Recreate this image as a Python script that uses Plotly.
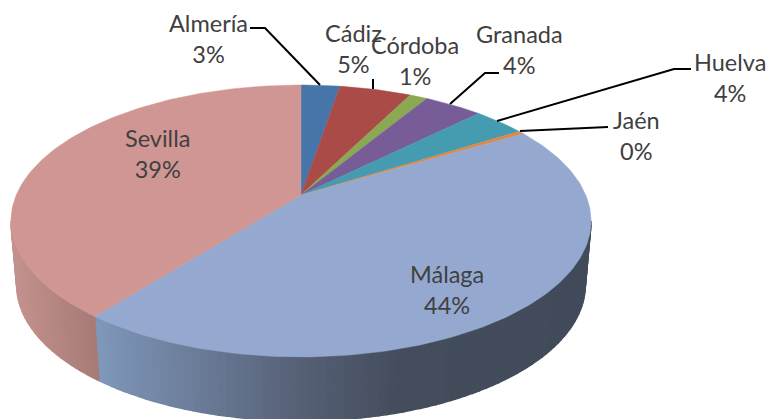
import math
import plotly.graph_objects as go

# ---- data ----
categories = ["Almería", "Cádiz", "Córdoba", "Granada", "Huelva", "Jaén", "Málaga", "Sevilla"]
values = [2.6, 4.8, 1.2, 3.9, 3.5, 0.4, 44.1, 39.4]

# ---- styles ----
colors = ["#4676A9", "#AA4B48", "#8BA852", "#775C98", "#459CB0", "#DE8A46", "#95A9D0", "#D09693"]
side_stops = {
    "Málaga": [(96, "#7F97B9"), (300, "#566076"), (400, "#434D5C"), (600, "#414B5A")],
    "Sevilla": [(10, "#C4928E"), (96, "#A67A76")],
}
label_xy = [(208, 38), (353, 48), (415, 60), (519, 49), (730, 77), (636, 135), (447, 289), (157, 153)]
leaders = [
    [(250, 28), (265, 28), (320, 85)],
    [(373, 79), (373, 89)],
    [],
    [(499, 73), (485, 73), (450, 104)],
    [(691, 69), (674, 69), (497, 121)],
    [(608, 127), (520, 131)],
    [],
    [],
]

# ---- projection of the tilted disc ----
CX, CY = 301, 195
K, A, B = 0.191, 284.7, 131.0
DEPTH, SHRINK = 64, 0.98


def top(deg):
    t = math.radians(deg)
    u, v = math.sin(t), math.cos(t)
    w = 1 + K * v
    return CX + A * u / w, CY - B * v / w


def bottom(deg):
    x, y = top(deg)
    return CX + (x - CX) * SHRINK, y + DEPTH


def mix(c1, c2, f):
    a = [int(c1[i:i + 2], 16) for i in (1, 3, 5)]
    b = [int(c2[i:i + 2], 16) for i in (1, 3, 5)]
    return "#%02x%02x%02x" % tuple(round(p + (q - p) * f) for p, q in zip(a, b))


def ramp(stops, x):
    if x <= stops[0][0]:
        return stops[0][1]
    for (x0, c0), (x1, c1) in zip(stops[:-1], stops[1:]):
        if x <= x1:
            return mix(c0, c1, (x - x0) / (x1 - x0))
    return stops[-1][1]


total = sum(values)
bounds = [0.0]
for val in values:
    bounds.append(bounds[-1] + val / total * 360)

fig = go.Figure()
EDGE_R = 90 + math.degrees(math.asin(K))
EDGE_L = 360 - EDGE_R

# side wall as narrow strips, each one overlapping the previous
for name, a0, a1 in zip(categories, bounds[:-1], bounds[1:]):
    if name not in side_stops:
        continue
    lo, hi = max(a0, EDGE_R), min(a1, EDGE_L)
    n = max(2, int((hi - lo) / 1.5))
    for i in range(n):
        s0 = lo + (hi - lo) * i / n
        s1 = lo + (hi - lo) * (i + 1) / n
        col = ramp(side_stops[name], top((s0 + s1) / 2)[0])
        p = [top(s0), top(s1), bottom(s1), bottom(s0), top(s0)]
        fig.add_trace(go.Scatter(x=[q[0] for q in p], y=[q[1] for q in p], mode="lines",
                                 fill="toself", fillcolor=col, line=dict(color=col, width=1.5),
                                 hoverinfo="skip", showlegend=False))

# top faces
for name, col, a0, a1 in zip(categories, colors, bounds[:-1], bounds[1:]):
    n = max(3, int((a1 - a0) / 1.0))
    pts = [(CX, CY)] + [top(a0 + (a1 - a0) * i / n) for i in range(n + 1)] + [(CX, CY)]
    fig.add_trace(go.Scatter(x=[q[0] for q in pts], y=[q[1] for q in pts], mode="lines",
                             fill="toself", fillcolor=col, line=dict(color=col, width=0.5),
                             name=name, showlegend=False))

# leader lines
for path in leaders:
    if path:
        fig.add_trace(go.Scatter(x=[q[0] for q in path], y=[q[1] for q in path], mode="lines",
                                 line=dict(color="#000000", width=2), hoverinfo="skip",
                                 showlegend=False))

# labels
for name, val, (lx, ly) in zip(categories, values, label_xy):
    fig.add_annotation(x=lx, y=ly, text=f"{name}<br>{round(val / total * 100)}%", showarrow=False,
                       font=dict(family="Lato, sans-serif", size=23.5, color="#404040"),
                       xanchor="center", yanchor="middle")

fig.update_layout(
    width=770, height=419, margin=dict(l=0, r=0, t=0, b=0),
    paper_bgcolor="white", plot_bgcolor="white", showlegend=False,
    xaxis=dict(range=[0, 770], visible=False, fixedrange=True),
    yaxis=dict(range=[419, 0], visible=False, fixedrange=True),
)
fig.write_html("out.html", config=dict(displayModeBar=False),
               post_script="document.body.style.margin='0';document.documentElement.style.overflow='hidden';")
